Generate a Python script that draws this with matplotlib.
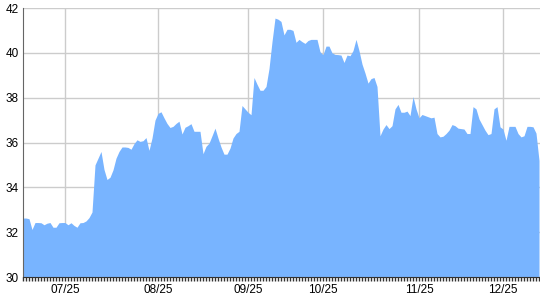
import matplotlib as mpl
mpl.use('Agg')
import matplotlib.pyplot as plt
import numpy as np

# daily closing values
values = [
    32.63, 32.63, 32.60, 32.12, 32.43, 32.43, 32.42, 32.33, 32.40, 32.43,
    32.22, 32.22, 32.42, 32.43, 32.43, 32.33, 32.42, 32.30, 32.22, 32.42,
    32.43, 32.50, 32.65, 32.90, 35.00, 35.30, 35.60, 34.80, 34.35, 34.45,
    34.78, 35.30, 35.60, 35.80, 35.80, 35.78, 35.70, 35.95, 36.12, 36.05,
    36.08, 36.22, 35.65, 36.20, 37.00, 37.30, 37.37, 37.10, 36.85, 36.67,
    36.72, 36.85, 36.95, 36.38, 36.68, 36.75, 36.84, 36.50, 36.50, 36.50,
    35.50, 35.83, 35.97, 36.30, 36.64, 36.20, 35.80, 35.48, 35.48, 35.75,
    36.20, 36.40, 36.50, 37.65, 37.50, 37.35, 37.24, 38.90, 38.60, 38.33,
    38.33, 38.50, 39.30, 40.50, 41.55, 41.50, 41.40, 40.80, 41.05, 41.05,
    41.00, 40.47, 40.60, 40.50, 40.42, 40.55, 40.60, 40.60, 40.60, 40.05,
    39.92, 40.30, 40.30, 40.00, 39.93, 39.92, 39.90, 39.57, 39.90, 39.87,
    40.10, 40.60, 40.10, 39.50, 39.10, 38.65, 38.85, 38.90, 38.50, 36.30,
    36.60, 36.80, 36.62, 36.75, 37.50, 37.70, 37.35, 37.35, 37.40, 37.20,
    38.05, 37.50, 37.10, 37.25, 37.20, 37.15, 37.10, 37.13, 36.40, 36.25,
    36.28, 36.40, 36.55, 36.80, 36.75, 36.64, 36.62, 36.60, 36.40, 36.40,
    37.60, 37.50, 37.05, 36.80, 36.55, 36.35, 36.40, 37.50, 37.60, 36.70,
    36.60, 36.10, 36.72, 36.72, 36.72, 36.40, 36.25, 36.30, 36.72, 36.72,
    36.70, 36.42, 35.20,
]
tick_idx = [14, 45, 75, 100, 132, 160]
tick_labels = ['07/25', '08/25', '09/25', '10/25', '11/25', '12/25']
yticks = [30, 32, 34, 36, 38, 40, 42]

plt.rcParams['font.family'] = ['Liberation Sans', 'DejaVu Sans']

fig = plt.figure(figsize=(5.4, 3.0), dpi=100)
ax = fig.add_axes([23/540, 23/300, 517/540, 269/300])

x = np.arange(len(values))
ax.fill_between(x, 30, values, color='#78b4ff', linewidth=0, zorder=2)

ax.set_xlim(0, len(values) - 1 + 0.33)
ax.set_ylim(30, 42)

ax.set_yticks(yticks)
ax.set_yticklabels([str(v) for v in yticks])
ax.set_xticks(tick_idx)
ax.set_xticklabels(tick_labels)
ax.set_xticks(x, minor=True)

ax.grid(True, which='major', color='#cccccc', linewidth=1, zorder=1)
ax.set_axisbelow(True)

ax.tick_params(axis='x', which='both', direction='out', length=3, width=1,
               color='#333333', labelsize=8.5, pad=2)
ax.tick_params(axis='y', which='both', length=0, labelsize=8.5, pad=3)

for s in ['top', 'right']:
    ax.spines[s].set_visible(False)
ax.spines['left'].set_color('#666666')
ax.spines['bottom'].set_color('#333333')

fig.savefig('out.png', dpi=100)
